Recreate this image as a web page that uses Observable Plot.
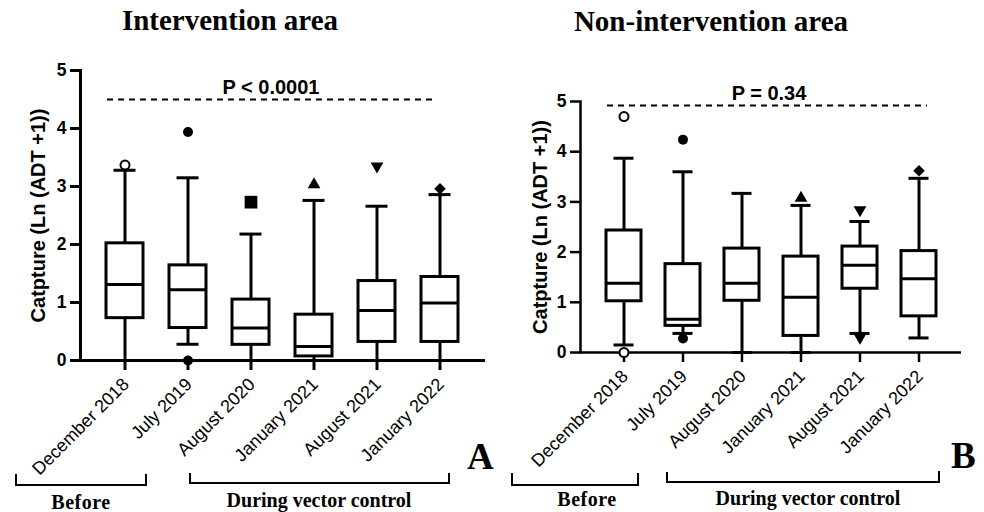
<!DOCTYPE html>
<html><head><meta charset="utf-8">
<script src="https://cdn.jsdelivr.net/npm/d3@7"></script>
<script src="https://cdn.jsdelivr.net/npm/@observablehq/plot@0.6"></script>
<style>
body{margin:0;background:#fff;}
#wrap{position:relative;width:984px;height:512px;overflow:hidden;font-family:"Liberation Sans",Arial,sans-serif;background:#fff;}
.panel{position:absolute;top:50px;}
#overlay{position:absolute;left:0;top:0;pointer-events:none;}
.serif{font-family:"Liberation Serif","Times New Roman",serif;font-weight:bold;fill:#000;}
.br{fill:none;stroke:#000;stroke-width:2;}
</style></head>
<body><div id="wrap">
<div id="left" class="panel" style="left:0px"></div>
<div id="right" class="panel" style="left:490px"></div>
<svg id="overlay" width="984" height="512">
  <text class="serif" x="230" y="30" font-size="29" text-anchor="middle">Intervention area</text>
  <text class="serif" x="711" y="31" font-size="29" text-anchor="middle">Non-intervention area</text>
  <path class="br" d="M16,474V485H146V474"/>
  <path class="br" d="M190,473V483H449V473"/>
  <path class="br" d="M512,473V485H638V473"/>
  <path class="br" d="M667,472V482H939V471"/>
  <text class="serif" x="81" y="509" font-size="20" text-anchor="middle" letter-spacing="0.5">Before</text>
  <text class="serif" x="319" y="507" font-size="20" text-anchor="middle">During vector control</text>
  <text class="serif" x="587" y="506" font-size="20" text-anchor="middle" letter-spacing="0.5">Before</text>
  <text class="serif" x="808" y="505" font-size="20" text-anchor="middle">During vector control</text>
  <text class="serif" x="467" y="469" font-size="37">A</text>
  <text class="serif" x="951" y="468" font-size="37">B</text>
</svg>
</div>
<script>
// ---- data ----
const categories = ["December 2018", "July 2019", "August 2020", "January 2021", "August 2021", "January 2022"];
const yTicks = [0, 1, 2, 3, 4, 5];
const yLabel = "Catpture (Ln (ADT +1))";

// Intervention area (box summary: whisker low, Q1, median, Q3, whisker high)
const intMin    = [0.00, 0.28, 0.00, 0.00, 0.00, 0.00];
const intQ1     = [0.73, 0.56, 0.27, 0.07, 0.32, 0.32];
const intMedian = [1.31, 1.22, 0.56, 0.24, 0.86, 0.99];
const intQ3     = [2.02, 1.64, 1.05, 0.79, 1.37, 1.44];
const intMax    = [3.28, 3.15, 2.18, 2.76, 2.66, 2.86];
const intOutCat = ["December 2018", "July 2019", "July 2019", "August 2020", "January 2021", "August 2021", "January 2022"];
const intOutVal = [3.37, 3.94, 0.00, 2.73, 3.05, 3.33, 2.96];
const intPLine  = [4.5];
const intPLabel = ["P < 0.0001"];

// Non-intervention area
const nonMin    = [0.15, 0.38, 0.00, 0.00, 0.38, 0.29];
const nonQ1     = [1.02, 0.53, 1.03, 0.33, 1.27, 0.72];
const nonMedian = [1.38, 0.66, 1.38, 1.10, 1.74, 1.47];
const nonQ3     = [2.43, 1.76, 2.07, 1.91, 2.11, 2.02];
const nonMax    = [3.87, 3.60, 3.17, 2.93, 2.61, 3.47];
const nonOutCat = ["December 2018", "December 2018", "July 2019", "July 2019", "January 2021", "August 2021", "August 2021", "January 2022"];
const nonOutVal = [4.70, 0.00, 4.24, 0.28, 3.10, 2.82, 0.28, 3.62];
const nonPLine  = [4.92];
const nonPLabel = ["P = 0.34"];

// ---- symbols (style) ----
const k = s => Math.sqrt(s / Math.PI);
const symSquare = {draw(c, s) { const r = k(s) * 1.27; c.rect(-r, -r, 2 * r, 2 * r); }};
const symTriUp = {draw(c, s) { const r = k(s), w = r * 1.27; c.moveTo(0, -r * 1.25); c.lineTo(w, r * 0.95); c.lineTo(-w, r * 0.95); c.closePath(); }};
const symTriDown = {draw(c, s) { const r = k(s), w = r * 1.27; c.moveTo(0, r * 1.25); c.lineTo(w, -r * 0.95); c.lineTo(-w, -r * 0.95); c.closePath(); }};
const symDiamond = {draw(c, s) { const r = k(s) * 1.15; c.moveTo(0, -r); c.lineTo(r, 0); c.lineTo(0, r); c.lineTo(-r, 0); c.closePath(); }};
const symbolStyle = {
  "December 2018": {symbol: "circle", fill: "white", stroke: "black", r: 4.5},
  "July 2019": {symbol: "circle", fill: "black", stroke: "none", r: 5},
  "August 2020": {symbol: symSquare, fill: "black", stroke: "none", r: 5},
  "January 2021": {symbol: symTriUp, fill: "black", stroke: "none", r: 5},
  "August 2021": {symbol: symTriDown, fill: "black", stroke: "none", r: 5},
  "January 2022": {symbol: symDiamond, fill: "black", stroke: "none", r: 5}
};

function panel(o) {
  const boxes = categories.map((c, i) => ({cat: c, min: o.min[i], q1: o.q1[i], med: o.med[i], q3: o.q3[i], max: o.max[i]}));
  const outliers = o.outCat.map((c, i) => ({cat: c, value: o.outVal[i]}));
  const dots = categories.map(c => {
    const st = symbolStyle[c];
    return Plot.dot(outliers.filter(d => d.cat === c), {x: "cat", y: "value", symbol: st.symbol, r: st.r, fill: st.fill, stroke: st.stroke, strokeWidth: 2});
  });
  return Plot.plot({
    width: o.width, height: 440,
    marginLeft: o.marginLeft, marginRight: o.marginRight, marginTop: o.marginTop, marginBottom: o.marginBottom,
    style: {fontFamily: "'Liberation Sans', Arial, sans-serif", color: "black", background: "transparent", overflow: "visible"},
    x: {domain: categories, padding: 0.41},
    y: {domain: [0, 5]},
    marks: [
      Plot.ruleY(o.pLine, {strokeDasharray: "6,5", strokeWidth: 1.8, insetLeft: o.dashL, insetRight: o.dashR}),
      Plot.text(o.pLabel, {text: d => d, y: () => o.pLine[0], lineAnchor: "bottom", dy: -6, dx: o.pDx, fontSize: 20, fontWeight: "bold"}),
      Plot.ruleX(boxes, {x: "cat", y1: "min", y2: "max", strokeWidth: 3}),
      Plot.tickY(boxes, {x: "cat", y: "min", strokeWidth: 3, insetLeft: 7.5, insetRight: 7.5}),
      Plot.tickY(boxes, {x: "cat", y: "max", strokeWidth: 3, insetLeft: 7.5, insetRight: 7.5}),
      Plot.barY(boxes, {x: "cat", y1: "q1", y2: "q3", fill: "white", stroke: "black", strokeWidth: 3}),
      Plot.tickY(boxes, {x: "cat", y: "med", strokeWidth: 3}),
      Plot.ruleY([0], {strokeWidth: o.axisW}),
      Plot.frame({anchor: "left", strokeWidth: o.axisW}),
      Plot.axisY({ticks: yTicks, tickFormat: d3.format("d"), tickSize: 10, tickPadding: 4, strokeWidth: o.axisW, fontSize: 17.5, fontWeight: "bold", label: null}),
      Plot.axisX({tickSize: 10, strokeWidth: o.axisW, fill: "none", label: null}),
      Plot.text(categories, {x: d => d, frameAnchor: "bottom", rotate: -45, textAnchor: "end", dx: 5, dy: 25, fontSize: 18}),
      Plot.text([yLabel], {frameAnchor: "left", rotate: -90, textAnchor: "middle", lineAnchor: "top", dx: o.labelDx, fontSize: 20, fontWeight: "bold"}),
      ...dots
    ]
  });
}

document.getElementById("left").append(panel({
  min: intMin, q1: intQ1, med: intMedian, q3: intQ3, max: intMax, outCat: intOutCat, outVal: intOutVal,
  pLine: intPLine, pLabel: intPLabel,
  width: 490, marginLeft: 80, marginRight: 5, marginTop: 20, marginBottom: 130,
  dashL: 27, dashR: 48, pDx: -12, labelDx: -50, axisW: 3
}));
document.getElementById("right").append(panel({
  min: nonMin, q1: nonQ1, med: nonMedian, q3: nonQ3, max: nonMax, outCat: nonOutCat, outVal: nonOutVal,
  pLine: nonPLine, pLabel: nonPLabel,
  width: 494, marginLeft: 90, marginRight: 23, marginTop: 51, marginBottom: 138,
  dashL: 27, dashR: 34, pDx: -2, labelDx: -48, axisW: 2.5
}));
</script>
</body></html>
